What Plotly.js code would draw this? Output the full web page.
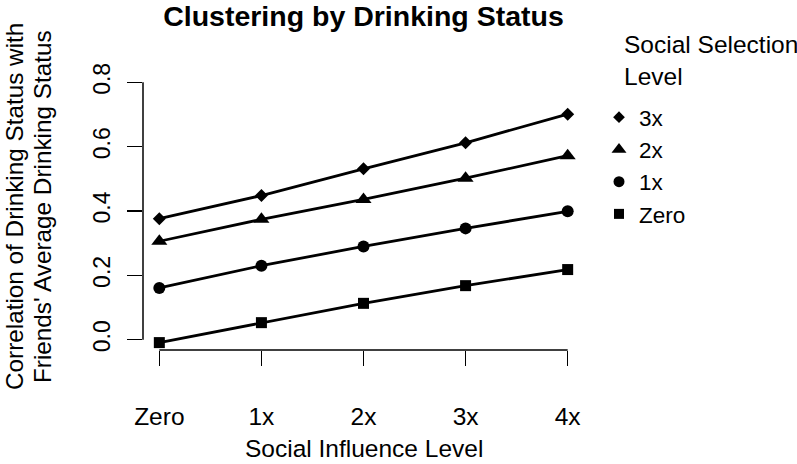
<!DOCTYPE html>
<html>
<head>
<meta charset="utf-8">
<script src="https://cdn.plot.ly/plotly-3.0.1.min.js"></script>
<style>html,body{margin:0;padding:0;background:#fff;}#chart{width:797px;height:464px;}</style>
</head>
<body>
<div id="chart"></div>
<script>
// Data
const categories = ['Zero', '1x', '2x', '3x', '4x'];           // Social Influence Level
const seriesNames = ['3x', '2x', '1x', 'Zero'];                 // Social Selection Level
const sel3x   = [0.376, 0.448, 0.531, 0.612, 0.701];
const sel2x   = [0.306, 0.374, 0.436, 0.502, 0.572];
const sel1x   = [0.161, 0.230, 0.290, 0.346, 0.399];
const selZero = [-0.009, 0.053, 0.113, 0.168, 0.218];
const yTicks  = [0.0, 0.2, 0.4, 0.6, 0.8];
const yTickText = ['0.0', '0.2', '0.4', '0.6', '0.8'];

const FONT = 'Liberation Sans, Arial, Helvetica, sans-serif';
const seriesValues = [sel3x, sel2x, sel1x, selZero];
const symbols = ['diamond', 'triangle-up', 'circle', 'square'];
const sizes = [10, 14, 12, 11];

const PW = 441, PH = 278;   // plot area size in px

const traces = [];
seriesValues.forEach((vals, i) => {
  traces.push({
    x: categories, y: vals, type: 'scatter', mode: 'lines+markers',
    line: {color: '#000', width: 2.8},
    marker: {symbol: symbols[i], size: sizes[i], color: '#000'},
    showlegend: false, hoverinfo: 'skip'
  });
});
seriesValues.forEach((vals, i) => {
  traces.push({
    x: [null], y: [null], type: 'scatter', mode: 'markers',
    name: seriesNames[i],
    marker: {symbol: symbols[i], size: sizes[i] - 1, color: '#000'},
    showlegend: true
  });
});

const layout = {
  width: 797, height: 464,
  margin: {l: 143, r: 213, t: 72, b: 114},
  paper_bgcolor: '#fff', plot_bgcolor: '#fff',
  font: {family: FONT, color: '#000', size: 24},
  title: {
    text: 'Clustering by Drinking Status',
    font: {family: FONT, size: 28.5, weight: 'bold', color: '#000'},
    x: 0.5, xref: 'paper', y: 1 - 16.5 / 464, yref: 'container', yanchor: 'middle'
  },
  xaxis: {
    type: 'category', range: [-0.16, 4.16],
    showgrid: false, zeroline: false, showline: false,
    ticks: 'outside', ticklen: 15, tickwidth: 1.5, tickcolor: '#000',
    tickfont: {family: FONT, size: 24.5, color: '#000'},
    ticklabelstandoff: 30,
    fixedrange: true
  },
  yaxis: {
    range: [-0.032, 0.832],
    tickvals: yTicks, ticktext: yTickText, tickangle: -90,
    showgrid: false, zeroline: false, showline: false,
    ticks: 'outside', ticklen: 15, tickwidth: 1.5, tickcolor: '#000',
    tickfont: {family: FONT, size: 23, color: '#000'},
    ticklabelstandoff: 8,
    fixedrange: true
  },
  shapes: [
    {type: 'line', xref: 'x', yref: 'paper', x0: categories[0], x1: categories[categories.length - 1], y0: 0, y1: 0,
     line: {color: '#000', width: 1.5}},
    {type: 'line', xref: 'paper', yref: 'y', x0: 0, x1: 0, y0: yTicks[0], y1: yTicks[yTicks.length - 1],
     line: {color: '#000', width: 1.5}}
  ],
  annotations: [
    {text: 'Correlation of Drinking Status with',
     xref: 'paper', yref: 'paper', x: (14 - 143) / PW, xanchor: 'center', y: (350 - 207) / PH, yanchor: 'middle',
     textangle: -90, showarrow: false,
     font: {family: FONT, size: 24.3, color: '#000'}},
    {text: 'Friends\' Average Drinking Status',
     xref: 'paper', yref: 'paper', x: (42 - 143) / PW, xanchor: 'center', y: (350 - 207) / PH, yanchor: 'middle',
     textangle: -90, showarrow: false,
     font: {family: FONT, size: 24.3, color: '#000'}},
    {text: 'Social Influence Level', xref: 'paper', yref: 'paper',
     x: 0.5, xanchor: 'center', y: (350 - 448.5) / PH, yanchor: 'middle', showarrow: false,
     font: {family: FONT, size: 24.5, color: '#000'}},
    {text: 'Social Selection<br>Level', xref: 'paper', yref: 'paper',
     x: (622 - 143) / PW, xanchor: 'left', y: (350 - 60) / PH, yanchor: 'middle',
     align: 'left', showarrow: false,
     font: {family: FONT, size: 24.5, color: '#000'}}
  ],
  legend: {
    x: (599 - 143) / PW, xanchor: 'left', y: (350 - 96) / PH, yanchor: 'top',
    font: {family: FONT, size: 22.5, color: '#000'},
    itemwidth: 30, bgcolor: 'rgba(0,0,0,0)', borderwidth: 0,
    tracegroupgap: 0
  },
  showlegend: true
};

Plotly.newPlot('chart', traces, layout, {displayModeBar: false, staticPlot: true});
</script>
</body>
</html>
